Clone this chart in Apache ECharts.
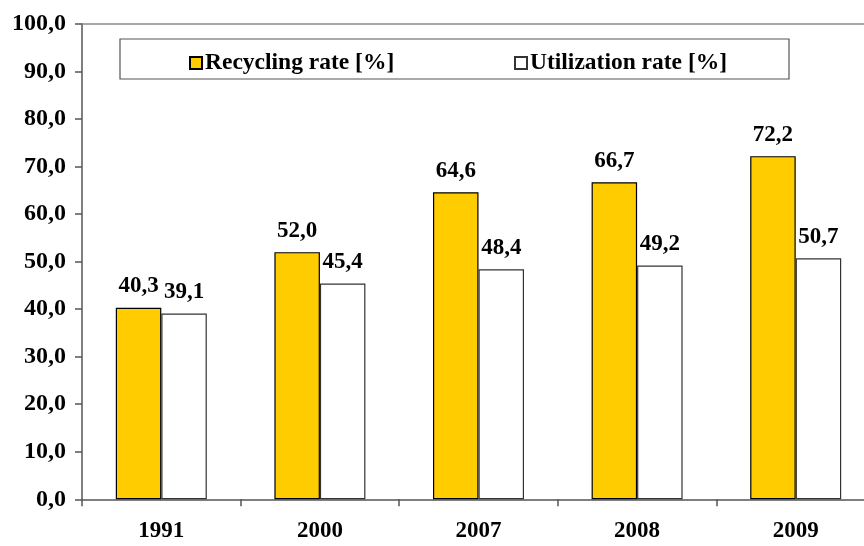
<!DOCTYPE html>
<html>
<head>
<meta charset="utf-8">
<script src="https://cdn.jsdelivr.net/npm/echarts@6/dist/echarts.min.js"></script>
<style>html,body{margin:0;padding:0;background:#fff;overflow:hidden;width:864px;height:546px}#c{width:876px;height:546px}</style>
</head>
<body>
<div id="c"></div>
<script>
const categories = ['1991', '2000', '2007', '2008', '2009'];
const recyclingRate = [40.3, 52.0, 64.6, 66.7, 72.2];
const utilizationRate = [39.1, 45.4, 48.4, 49.2, 50.7];
const seriesNames = ['Recycling rate [%]', 'Utilization rate [%]'];
const yMin = 0, yMax = 100, yStep = 10;

const FONT = 'Liberation Serif';
const fmt = v => Number(v).toFixed(1).replace('.', ',');

const chart = echarts.init(document.getElementById('c'), null, {renderer: 'canvas'});
chart.setOption({
  animation: false,
  backgroundColor: '#fff',
  textStyle: {fontFamily: FONT},
  grid: {left: 82, top: 24, right: 1, bottom: 46.7, containLabel: false, show: false},
  graphic: [
    {type: 'rect', shape: {x: 120, y: 39, width: 669, height: 40},
     style: {fill: '#fff', stroke: '#555', lineWidth: 1.2}, z: 5},
    {type: 'line', shape: {x1: 82, y1: 24, x2: 876, y2: 24},
     style: {stroke: '#888', lineWidth: 1.5}, z: 1}
  ],
  legend: [
    {data: [seriesNames[0]], left: 184, top: 46, itemWidth: 12, itemHeight: 12, itemGap: 0,
     icon: 'rect', textStyle: {fontFamily: FONT, fontWeight: 'bold', fontSize: 23.5, color: '#000', padding: [0, 0, 0, -2]}, z: 10},
    {data: [seriesNames[1]], left: 509, top: 46, itemWidth: 12, itemHeight: 12, itemGap: 0,
     icon: 'rect', textStyle: {fontFamily: FONT, fontWeight: 'bold', fontSize: 23.5, color: '#000', padding: [0, 0, 0, -2]}, z: 10}
  ],
  xAxis: {
    type: 'category', data: categories,
    axisLine: {lineStyle: {color: '#555', width: 1.5}},
    axisTick: {show: true, length: 7, lineStyle: {color: '#555', width: 1.5}},
    axisLabel: {fontFamily: FONT, fontWeight: 'bold', fontSize: 23, color: '#000', margin: 20},
    splitLine: {show: false}
  },
  yAxis: {
    type: 'value', min: yMin, max: yMax, interval: yStep,
    axisLine: {show: true, lineStyle: {color: '#555', width: 1.5}},
    axisTick: {show: true, length: 7, lineStyle: {color: '#555', width: 1.5}},
    axisLabel: {fontFamily: FONT, fontWeight: 'bold', fontSize: 24, color: '#000', margin: 16, formatter: fmt},
    splitLine: {show: false}
  },
  series: [
    {name: seriesNames[0], type: 'bar', data: recyclingRate, barWidth: 45.5, barGap: '0%',
     itemStyle: {color: '#FFCC00', borderColor: '#000', borderWidth: 1.2},
     label: {show: true, position: 'top', distance: 10, formatter: p => fmt(p.value),
             fontFamily: FONT, fontWeight: 'bold', fontSize: 23, color: '#000'}},
    {name: seriesNames[1], type: 'bar', data: utilizationRate, barWidth: 45.5, barGap: '0%',
     itemStyle: {color: '#FFFFFF', borderColor: '#333', borderWidth: 1.2},
     label: {show: true, position: 'top', distance: 10, formatter: p => fmt(p.value),
             fontFamily: FONT, fontWeight: 'bold', fontSize: 23, color: '#000'}}
  ]
});
</script>
</body>
</html>
